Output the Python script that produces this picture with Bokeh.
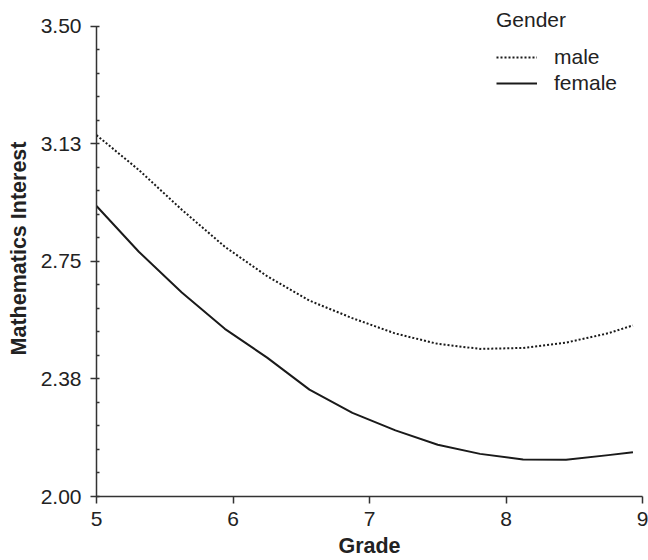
import numpy as np
from bokeh.plotting import figure
from bokeh.models import Range1d, FixedTicker, Legend, LegendItem, NumeralTickFormatter
from bokeh.embed import file_html
from bokeh.resources import INLINE

# ---- data ----
grade = [5.0, 5.31, 5.625, 5.94, 6.25, 6.56, 6.875, 7.19, 7.5, 7.81, 8.125, 8.44, 8.75, 8.93]
male = [3.153, 3.042, 2.915, 2.797, 2.703, 2.625, 2.569, 2.520, 2.487, 2.471, 2.474, 2.491, 2.521, 2.546]
female = [2.927, 2.781, 2.651, 2.535, 2.443, 2.341, 2.267, 2.211, 2.165, 2.136, 2.118, 2.117, 2.132, 2.141]

x_ticks = [5, 6, 7, 8, 9]
y_ticks = [2.0, 2.375, 2.75, 3.125, 3.5]
y_tick_labels = ["2.00", "2.38", "2.75", "3.13", "3.50"]
series_names = ["male", "female"]
legend_title = "Gender"
x_title = "Grade"
y_title = "Mathematics Interest"

FONT = "Liberation Sans"
INK = "#222222"

W, H = 648, 560
TOP_PAD = 26      # px of frame above the 3.50 tick
FRAME_H = 498     # frame height (frame top at canvas 0)
p = figure(width=W, height=H, output_backend="svg", toolbar_location=None,
           x_range=Range1d(5, 9),
           y_range=Range1d(2.0, 3.5 + 1.5 * TOP_PAD / (FRAME_H - TOP_PAD)),
           min_border_left=96, min_border_right=6, min_border_top=0,
           min_border_bottom=H - FRAME_H)
p.outline_line_color = None
p.xgrid.grid_line_color = None
p.ygrid.grid_line_color = None
p.background_fill_color = "white"
p.border_fill_color = "white"

rm = p.line(grade, male, line_color="#1a1a1a", line_width=2, line_dash="2 2")
rf = p.line(grade, female, line_color="#1a1a1a", line_width=2, line_join="round")

# y axis
minor = []
for a, b in zip(y_ticks[:-1], y_ticks[1:]):
    minor.extend(list(np.linspace(a, b, 6)[1:-1]))
p.yaxis.ticker = FixedTicker(ticks=y_ticks, minor_ticks=minor)
p.yaxis.formatter = NumeralTickFormatter(format="0.00")
p.yaxis.major_label_overrides = {t: l for t, l in zip(y_ticks, y_tick_labels)}
p.yaxis.bounds = (y_ticks[0], y_ticks[-1])
p.yaxis.major_tick_out = 6
p.yaxis.major_tick_in = 3
p.yaxis.minor_tick_out = 0
p.yaxis.minor_tick_in = 3
p.yaxis.major_label_standoff = 9
p.yaxis.axis_label = y_title
p.yaxis.axis_label_standoff = 7

# x axis
p.xaxis.ticker = FixedTicker(ticks=x_ticks)
p.xaxis.major_label_overrides = {t: str(t) for t in x_ticks}
p.xaxis.major_tick_out = 7
p.xaxis.major_tick_in = 0
p.xaxis.major_label_standoff = 8
p.xaxis.axis_label = x_title
p.xaxis.axis_label_standoff = 5

for ax in (p.xaxis, p.yaxis):
    ax.axis_line_color = "#333333"
    ax.axis_line_width = 1.5
    ax.major_tick_line_color = "#333333"
    ax.major_tick_line_width = 1.5
    ax.minor_tick_line_color = "#333333"
    ax.minor_tick_line_width = 1.5
    ax.major_label_text_font = FONT
    ax.major_label_text_font_size = "21px"
    ax.major_label_text_color = INK
    ax.axis_label_text_font = FONT
    ax.axis_label_text_font_size = "21.5px"
    ax.axis_label_text_font_style = "bold"
    ax.axis_label_text_color = INK
p.xaxis.minor_tick_line_color = None

legend = Legend(
    items=[LegendItem(label=series_names[0], renderers=[rm]),
           LegendItem(label=series_names[1], renderers=[rf])],
    title=legend_title, location=(400, 400), orientation="vertical",
    title_text_font=FONT, title_text_font_size="21px", title_text_font_style="normal",
    title_text_color=INK, title_standoff=12,
    label_text_font=FONT, label_text_font_size="21px", label_text_color=INK,
    glyph_width=41, glyph_height=20, label_height=26, label_standoff=17,
    spacing=0, padding=0, margin=0,
    border_line_alpha=0, background_fill_alpha=0)
p.add_layout(legend, "center")

open("out.html", "w").write(file_html(p, INLINE))
